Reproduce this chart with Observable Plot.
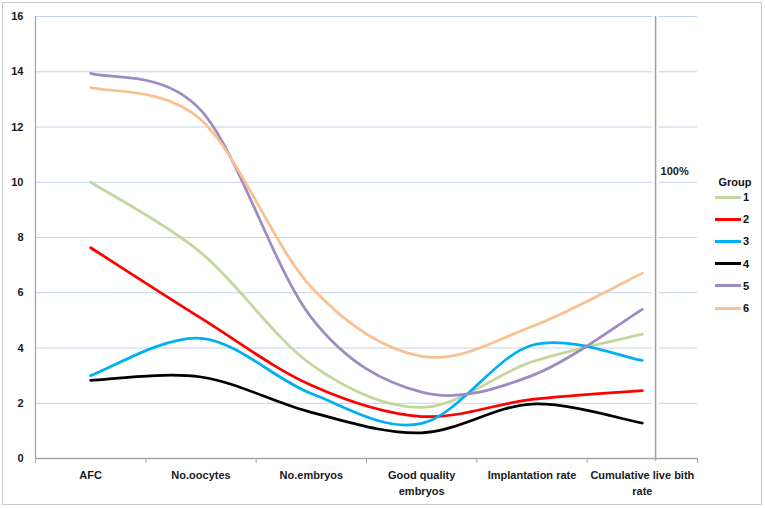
<!DOCTYPE html>
<html>
<head>
<meta charset="utf-8">
<script src="https://cdn.jsdelivr.net/npm/d3@7"></script>
<script src="https://cdn.jsdelivr.net/npm/@observablehq/plot@0.6"></script>
<style>
  html, body { margin: 0; padding: 0; background: #fff; }
  #wrap { position: relative; width: 765px; height: 508px; font-family: "Liberation Sans", Arial, sans-serif; }
  #frame { position: absolute; left: 2px; top: 2px; width: 758px; height: 501px; border: 1px solid #c8c8c8; pointer-events: none; }
  #legend { position: absolute; left: 715px; top: 174px; font-size: 11px; font-weight: bold; color: #111; }
  #legend .title { width: 40px; text-align: center; height: 12px; line-height: 16px; }
  #legend .row { display: flex; align-items: center; height: 22.2px; }
  #legend .sw { width: 26px; height: 3px; margin-right: 2px; }
</style>
</head>
<body>
<div id="wrap"><div id="frame"></div><div id="legend"></div></div>
<script>
const categories = ["AFC", "No.oocytes", "No.embryos", "Good quality embryos", "Implantation rate", "Cumulative live bith rate"];
const tickLabels = ["AFC", "No.oocytes", "No.embryos", "Good quality\nembryos", "Implantation rate", "Cumulative live bith\nrate"];
const groups = ["1", "2", "3", "4", "5", "6"];
const colors = ["#c3d69b", "#ff0000", "#00b0f0", "#000000", "#9d8bc2", "#fac090"];
const group1 = [10.0, 7.45, 3.4, 1.85, 3.5, 4.5];
const group2 = [7.63, 5.08, 2.65, 1.52, 2.14, 2.46];
const group3 = [3.0, 4.35, 2.35, 1.27, 4.1, 3.55];
const group4 = [2.83, 2.95, 1.67, 0.93, 1.97, 1.28];
const group5 = [13.94, 12.6, 5.1, 2.4, 3.0, 5.4];
const group6 = [13.43, 12.26, 6.2, 3.7, 4.78, 6.71];
const yTicks = [0, 2, 4, 6, 8, 10, 12, 14, 16];
const refLineX = 5.12;
const refLabel = "100%";
const legendTitle = "Group";

const series = [group1, group2, group3, group4, group5, group6];
const rows = [];
series.forEach((vals, g) => vals.forEach((v, i) => rows.push({group: groups[g], i, value: v})));
const idx = categories.map((_, i) => i);
const bounds = d3.range(-0.5, categories.length, 1);

// Spreadsheet-style smoothing: Catmull-Rom Bezier (1/6), control length capped at half the segment
function smoothCurve(context) {
  let pts = [];
  return {
    areaStart() {}, areaEnd() {},
    lineStart() { pts = []; },
    point(x, y) { pts.push([+x, +y]); },
    lineEnd() {
      const n = pts.length;
      if (!n) return;
      context.moveTo(pts[0][0], pts[0][1]);
      if (n < 3) { for (let i = 1; i < n; i++) context.lineTo(pts[i][0], pts[i][1]); return; }
      const P = i => pts[Math.max(0, Math.min(n - 1, i))];
      for (let i = 0; i < n - 1; i++) {
        const p0 = P(i - 1), p1 = P(i), p2 = P(i + 1), p3 = P(i + 2);
        const d12 = Math.hypot(p2[0] - p1[0], p2[1] - p1[1]);
        const t1 = [p2[0] - p0[0], p2[1] - p0[1]], t2 = [p3[0] - p1[0], p3[1] - p1[1]];
        const l1 = Math.hypot(...t1), l2 = Math.hypot(...t2);
        const f1 = l1 / 6 < d12 / 2 ? 1 / 6 : d12 / (2 * l1);
        const f2 = l2 / 6 < d12 / 2 ? 1 / 6 : d12 / (2 * l2);
        context.bezierCurveTo(
          p1[0] + t1[0] * f1, p1[1] + t1[1] * f1,
          p2[0] - t2[0] * f2, p2[1] - t2[1] * f2,
          p2[0], p2[1]
        );
      }
    }
  };
}

const font = {fontWeight: "bold", fontSize: 11, fill: "#1a1a1a"};

const chart = Plot.plot({
  width: 765,
  height: 508,
  marginLeft: 35,
  marginRight: 68,
  marginTop: 16,
  marginBottom: 50,
  style: {fontFamily: "'Liberation Sans', Arial, sans-serif", background: "transparent"},
  x: {type: "linear", domain: [-0.5, categories.length - 0.5], label: null},
  y: {domain: [0, 16], label: null},
  color: {domain: groups, range: colors},
  marks: [
    Plot.gridY(yTicks.filter(d => d > 0), {stroke: "#c3d3ea", strokeOpacity: 1, strokeWidth: 1.2}),
    Plot.ruleX([refLineX], {y1: 0, y2: 16, stroke: "white", strokeWidth: 6}),
    Plot.ruleX([refLineX], {y1: -0.1, y2: 16, stroke: "#a0a0a0", strokeWidth: 1.5}),
    Plot.ruleX([-0.5], {y1: 0, y2: 16, stroke: "#a6a6a6", strokeWidth: 1.3}),
    Plot.ruleY([0], {stroke: "#a6a6a6", strokeWidth: 1.3}),
    Plot.axisY({ticks: yTicks, tickSize: 0, tickPadding: 12, label: null, ...font}),
    Plot.axisX({ticks: bounds, tickSize: 5, tickFormat: () => "", label: null, stroke: "#a6a6a6"}),
    Plot.axisX({ticks: idx, tickSize: 0, tickPadding: 10, tickFormat: i => tickLabels[i], label: null, lineHeight: 1.4, ...font}),
    Plot.line(rows, {x: "i", y: "value", z: "group", stroke: "group", curve: smoothCurve, strokeWidth: 2.75}),
    Plot.text([refLabel], {x: refLineX, y: 10.4, text: d => d, dx: 5, textAnchor: "start", ...font})
  ]
});
document.getElementById("wrap").prepend(chart);

const leg = document.getElementById("legend");
const t = document.createElement("div");
t.className = "title";
t.textContent = legendTitle;
leg.appendChild(t);
groups.forEach((g, k) => {
  const r = document.createElement("div");
  r.className = "row";
  const s = document.createElement("div");
  s.className = "sw";
  s.style.background = colors[k];
  const l = document.createElement("span");
  l.textContent = g;
  r.appendChild(s);
  r.appendChild(l);
  leg.appendChild(r);
});
</script>
</body>
</html>
